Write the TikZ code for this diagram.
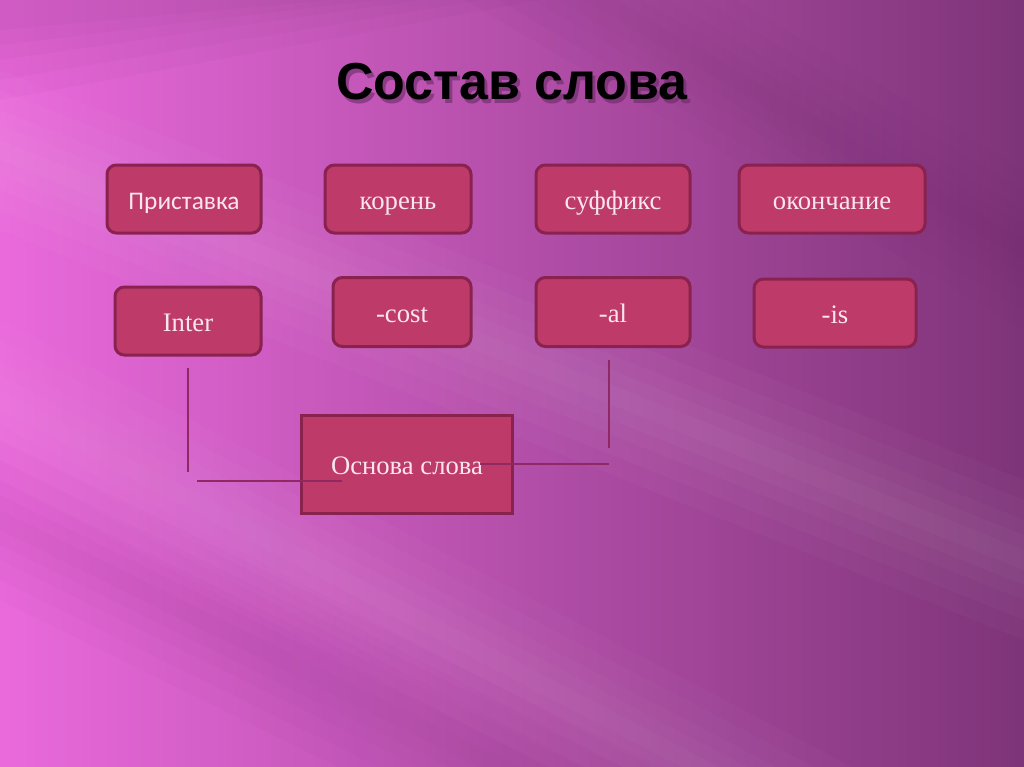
\documentclass[tikz,border=0pt]{standalone}
\usepackage{fontspec}
\setmainfont{Liberation Serif}
\setsansfont{Liberation Sans}
\newfontfamily\boxsans{Carlito}
\usetikzlibrary{positioning}

\definecolor{bgpink}{HTML}{EA6ADC}
\definecolor{bgmid}{HTML}{AC4AA4}
\definecolor{bgdark}{HTML}{7E3478}
\definecolor{bgshadow}{HTML}{6A2A66}
\definecolor{boxfill}{HTML}{BE3A68}
\definecolor{boxedge}{HTML}{8A2250}
\definecolor{boxtext}{HTML}{FBE6F0}
\definecolor{lineclr}{HTML}{902864}

\begin{document}
\begin{tikzpicture}[x=0.75pt,y=-0.75pt,
  wordbox/.style={draw=boxedge, fill=boxfill, line width=2.25pt,
    rounded corners=7pt, text=boxtext, inner sep=0pt,
    text height=16pt, text depth=1pt,
    font=\fontsize{20}{24}\selectfont, minimum height=51pt},
  stembox/.style={wordbox, rounded corners=0pt, minimum height=73.5pt},
  joinline/.style={draw=lineclr, line width=1pt}]
  % background
  \useasboundingbox (0,0) rectangle (1024,767);
  \shade[left color=bgpink, middle color=bgmid, right color=bgdark] (0,0) rectangle (1024,767);
  \foreach \w in {10,25,40,60,80} {
    \fill[bgshadow, opacity=.04] (0,0) -- (300+3*\w,0) -- (0,20+\w) -- cycle;
    \fill[white, opacity=.025] (0,150-\w) -- (1024,560-\w) -- (1024,560+\w) -- (0,150+\w) -- cycle;
    \fill[white, opacity=.02] (0,400-\w) -- (1024,937-\w) -- (1024,937+\w) -- (0,400+\w) -- cycle;
    \fill[bgshadow, opacity=.03] (0,-354-\w) -- (1024,250-\w) -- (1024,250+\w) -- (0,-354+\w) -- cycle;
    \fill[bgshadow, opacity=.025] (0,520-\w) -- (1024,1026-\w) -- (1024,1026+\w) -- (0,520+\w) -- cycle;
  }

  % title
  \node[text=bgshadow, opacity=.6, font=\sffamily\bfseries\fontsize{39}{42}\selectfont] at (515,86) {Состав слова};
  \node (title) [font=\sffamily\bfseries\fontsize{39}{42}\selectfont] at (512,82) {Состав слова};

  % parts of the word
  \node (pref) [wordbox, minimum width=115.5pt, font=\boxsans\fontsize{19}{22}\selectfont] at (184,199) {Приставка};
  \node (root) [wordbox, minimum width=109.5pt] at (398,199) {корень};
  \node (suff) [wordbox, minimum width=115.5pt] at (613,199) {суффикс};
  \node (ending) [wordbox, minimum width=139.5pt] at (832,199) {окончание};

  \node (inter) [wordbox, minimum width=109.5pt] at (188,321) {Inter};
  \node (cost) [wordbox, minimum width=103.5pt, minimum height=51.75pt] at (402,312) {-cost};
  \node (al) [wordbox, minimum width=115.5pt, minimum height=51.75pt] at (613,312) {-al};
  \node (is) [wordbox, minimum width=121.5pt] at (835,313) {-is};

  \node (stem) [stembox, minimum width=158.25pt] at (407,464) {Основа слова};

  % stem lines
  \coordinate (l1) at (188,368);
  \coordinate (l2) at (188,472);
  \coordinate (l3) at (197,481);
  \coordinate (l4) at (342,481);
  \coordinate (r1) at (609,360);
  \coordinate (r2) at (609,448);
  \coordinate (r3) at (480,464);
  \coordinate (r4) at (609,464);
  \draw[joinline] (l1) -- (l2);
  \draw[joinline] (l3) -- (l4);
  \draw[joinline] (r1) -- (r2);
  \draw[joinline] (r3) -- (r4);
\end{tikzpicture}
\end{document}
